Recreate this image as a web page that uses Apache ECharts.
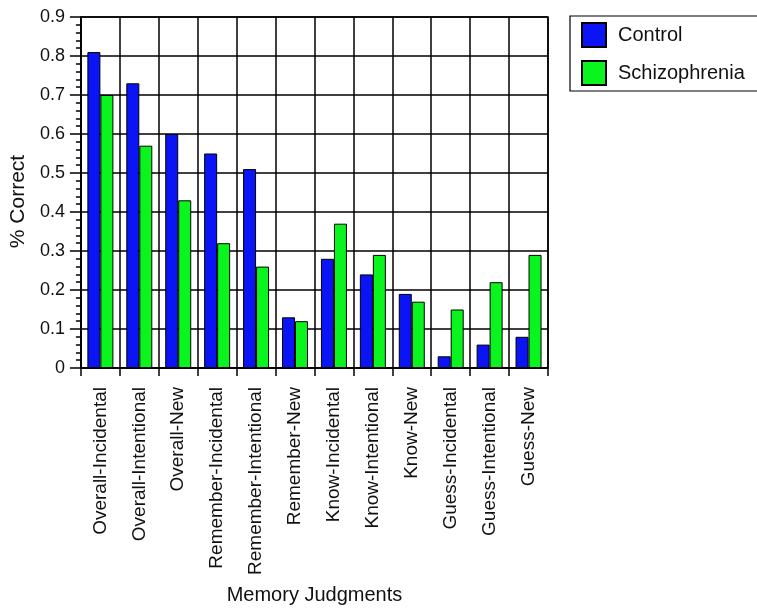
<!DOCTYPE html>
<html>
<head>
<meta charset="utf-8">
<script src="https://cdn.jsdelivr.net/npm/echarts@6/dist/echarts.min.js"></script>
<style>
  html, body { margin: 0; padding: 0; background: #fff; }
  #chart { width: 757px; height: 610px; }
</style>
</head>
<body>
<div id="chart"></div>
<script>
  var categories = ['Overall-Incidental', 'Overall-Intentional', 'Overall-New',
    'Remember-Incidental', 'Remember-Intentional', 'Remember-New',
    'Know-Incidental', 'Know-Intentional', 'Know-New',
    'Guess-Incidental', 'Guess-Intentional', 'Guess-New'];
  var control = [0.81, 0.73, 0.60, 0.55, 0.51, 0.13, 0.28, 0.24, 0.19, 0.03, 0.06, 0.08];
  var schizophrenia = [0.70, 0.57, 0.43, 0.32, 0.26, 0.12, 0.37, 0.29, 0.17, 0.15, 0.22, 0.29];

  var font = 'Liberation Sans, Arial, Helvetica, sans-serif';
  var chart = echarts.init(document.getElementById('chart'));
  chart.setOption({
    animation: false,
    textStyle: { fontFamily: font },
    grid: {
      left: 79, top: 17, right: 209, bottom: 242,
      show: true, borderColor: '#000', borderWidth: 1.5
    },
    legend: {
      left: 570, top: 16,
      orient: 'vertical',
      itemWidth: 24, itemHeight: 24, itemGap: 12,
      padding: [6, 30, 5, 11],
      borderColor: '#000', borderWidth: 1.2,
      icon: 'rect',
      textStyle: { fontSize: 20, color: '#111', fontFamily: font, padding: [0, 0, 0, 7] },
      data: ['Control', 'Schizophrenia']
    },
    xAxis: {
      type: 'category',
      data: categories,
      name: 'Memory Judgments',
      nameLocation: 'middle',
      nameGap: 217,
      nameTextStyle: { fontSize: 20, color: '#111' },
      axisLine: { lineStyle: { color: '#000', width: 1.5 } },
      axisTick: { show: true, length: 8, lineStyle: { color: '#000', width: 1.5 } },
      axisLabel: { interval: 0, rotate: 90, fontSize: 19, color: '#111', margin: 19 },
      splitLine: { show: true, interval: 0, lineStyle: { color: '#000', width: 1.5 } }
    },
    yAxis: {
      type: 'value',
      min: 0, max: 0.9, interval: 0.1,
      name: '% Correct',
      nameLocation: 'middle',
      nameGap: 49,
      nameTextStyle: { fontSize: 21, color: '#111', padding: [0, 18, 0, 0] },
      axisLine: { show: true, lineStyle: { color: '#000', width: 1.5 } },
      axisTick: { show: true, length: 11, lineStyle: { color: '#000', width: 1.5 } },
      minorTick: { show: true, splitNumber: 5, length: 5, lineStyle: { color: '#000', width: 1.5 } },
      axisLabel: {
        fontSize: 18, color: '#111', margin: 16,
        formatter: function (v) { return v === 0 ? '0' : v.toFixed(1); }
      },
      splitLine: { show: true, lineStyle: { color: '#000', width: 1.5 } }
    },
    series: [
      {
        name: 'Control', type: 'bar', data: control,
        barWidth: 13, barGap: '0%',
        itemStyle: { color: '#0a14f5', borderColor: '#000', borderWidth: 1 }
      },
      {
        name: 'Schizophrenia', type: 'bar', data: schizophrenia,
        barWidth: 13,
        itemStyle: { color: '#0af51e', borderColor: '#000', borderWidth: 1 }
      }
    ]
  });
</script>
</body>
</html>
